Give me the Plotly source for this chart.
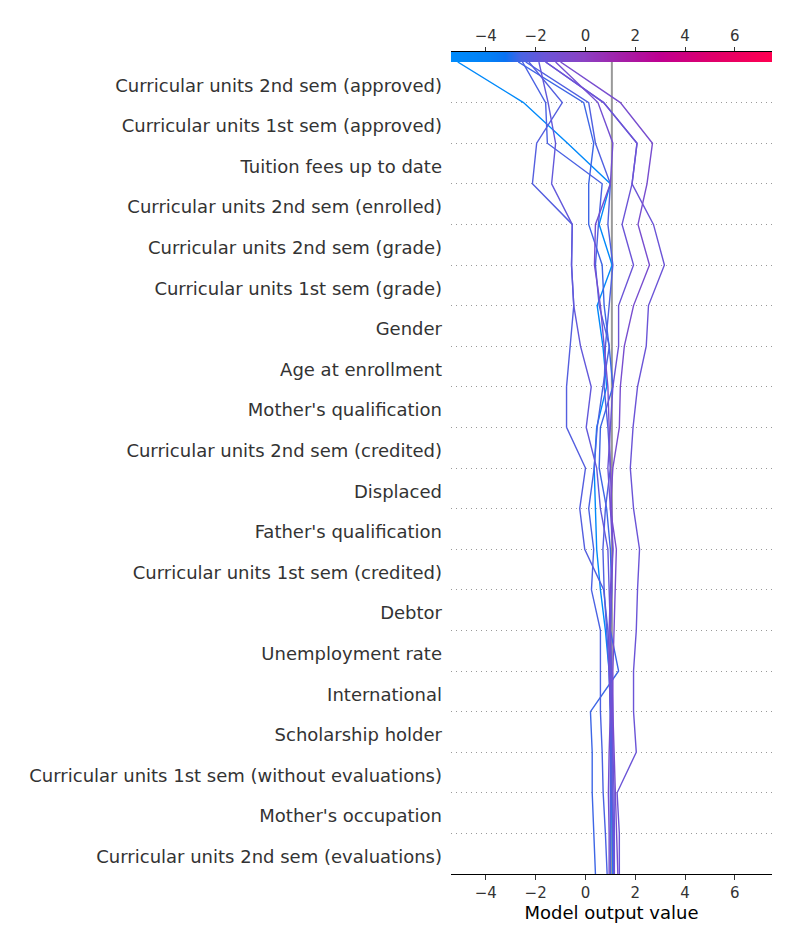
import numpy as np
import plotly.graph_objects as go
from plotly.colors import sample_colorscale

# ---------------- data ----------------
features = [
    "Curricular units 2nd sem (approved)",
    "Curricular units 1st sem (approved)",
    "Tuition fees up to date",
    "Curricular units 2nd sem (enrolled)",
    "Curricular units 2nd sem (grade)",
    "Curricular units 1st sem (grade)",
    "Gender",
    "Age at enrollment",
    "Mother's qualification",
    "Curricular units 2nd sem (credited)",
    "Displaced",
    "Father's qualification",
    "Curricular units 1st sem (credited)",
    "Debtor",
    "Unemployment rate",
    "International",
    "Scholarship holder",
    "Curricular units 1st sem (without evaluations)",
    "Mother's occupation",
    "Curricular units 2nd sem (evaluations)",
]

base_value = 1.06
x_min, x_max = -5.40, 7.49

tick_vals = [-4, -2, 0, 2, 4, 6]
tick_text = ["\u22124", "\u22122", "0", "2", "4", "6"]

# cumulative model output at each row boundary, listed from the top edge
# (final prediction) down to the bottom edge (21 values per sample)
sample_a = [-5.13, -2.49, -0.72, 1.00, 0.55, 1.07, 0.47, 0.70, 0.85, 0.45, 0.35,
            0.40, 0.45, 0.60, 0.80, 0.95, 1.00, 1.05, 1.05, 1.08, 1.10]
sample_b = [-2.70, -0.07, 0.33, 0.13, 0.13, 0.67, 0.75, 0.95, 1.10, 0.60, 0.55,
            0.85, 1.00, 1.05, 1.00, 1.33, 0.20, 0.27, 0.27, 0.33, 0.40]
sample_c = [-2.53, -1.60, -1.53, 0.67, 0.52, 0.40, 0.55, 0.96, 0.70, 0.47, 0.35,
            0.13, 0.33, 0.24, 0.60, 0.60, 0.60, 0.67, 0.71, 0.80, 0.87]
sample_d = [-2.40, 0.13, 0.40, 1.00, 0.90, 1.10, 0.95, 0.80, 0.75, 0.90, 1.00,
            0.80, 0.70, 0.75, 0.85, 0.95, 1.00, 1.00, 0.98, 1.00, 1.00]
sample_e = [-2.27, -0.93, -1.96, -2.13, -0.53, -0.56, -0.47, -0.63, -0.76, -0.76, 0.00,
            -0.23, -0.03, 0.73, 0.90, 1.00, 1.05, 1.05, 1.05, 1.10, 1.12]
sample_f = [-1.87, -1.50, -1.20, -1.36, -0.53, -0.56, -0.47, -0.20, 0.23, 0.03, 0.45,
            0.60, 0.90, 0.95, 1.00, 1.05, 1.10, 1.10, 1.15, 1.16, 1.16]
sample_g = [-1.60, 0.73, 2.07, 1.87, 1.47, 1.93, 1.33, 1.33, 1.10, 1.00, 0.90,
            1.00, 1.10, 1.05, 1.00, 1.00, 1.05, 1.10, 1.10, 1.12, 1.15]
sample_h = [-1.60, 0.73, 2.07, 1.87, 2.73, 3.17, 2.53, 2.44, 2.09, 1.91, 1.80,
            1.93, 2.17, 2.09, 2.04, 1.93, 1.93, 2.04, 1.27, 1.36, 1.36]
sample_i = [-1.20, 0.50, 1.10, 1.00, 0.40, 0.36, 0.60, 0.75, 0.90, 0.95, 1.00,
            1.05, 1.10, 1.00, 0.95, 0.95, 1.00, 0.95, 0.92, 0.95, 0.95]
sample_j = [-1.00, 1.40, 2.69, 2.47, 2.11, 2.57, 1.93, 1.56, 1.40, 1.36, 1.10,
            1.00, 1.24, 1.20, 1.15, 1.10, 1.10, 1.15, 1.20, 1.25, 1.30]

samples = [sample_a, sample_b, sample_c, sample_d, sample_e,
           sample_f, sample_g, sample_h, sample_i, sample_j]

# shap-like red/blue colormap
cscale = [
    [0.00, "#008bfb"],
    [0.12, "#0380f6"],
    [0.17, "#0a72f2"],
    [0.22, "#4a63e3"],
    [0.29, "#6a55d8"],
    [0.41, "#8a42c4"],
    [0.53, "#a320a8"],
    [0.65, "#bf0090"],
    [0.82, "#e0006a"],
    [1.00, "#ff0051"],
]

n_feat = len(features)
font_family = "DejaVu Sans, Verdana, sans-serif"

fig = go.Figure()

# base value line
fig.add_trace(go.Scatter(
    x=[base_value, base_value], y=[0, n_feat], mode="lines",
    line=dict(color="#999999", width=2), hoverinfo="skip", showlegend=False,
    xaxis="x", yaxis="y"))

# decision lines
levels = list(range(n_feat, -1, -1))  # top edge = n_feat ... bottom = 0
for s in samples:
    frac = (s[0] - x_min) / (x_max - x_min)
    col = sample_colorscale(cscale, [min(max(frac, 0), 1)])[0]
    fig.add_trace(go.Scatter(
        x=s, y=levels, mode="lines", line=dict(color=col, width=1.4),
        hoverinfo="skip", showlegend=False, xaxis="x", yaxis="y"))

# colour bar strip on top
grad_x = np.linspace(x_min, x_max, 300)
fig.add_trace(go.Heatmap(
    x=grad_x, y=[0], z=[grad_x], colorscale=cscale, zmin=x_min, zmax=x_max,
    showscale=False, hoverinfo="skip", xaxis="x2", yaxis="y2"))

plot_top, plot_bottom, bar_top = 62, 874, 52
H = 950
t_margin = bar_top
b_margin = H - plot_bottom
ph = H - t_margin - b_margin
split = (plot_bottom - plot_top) / ph

fig.update_layout(
    width=800, height=950,
    margin=dict(l=451, r=28, t=t_margin, b=b_margin),
    paper_bgcolor="white", plot_bgcolor="white",
    font=dict(family=font_family, color="#333333"),
    xaxis=dict(
        range=[x_min, x_max], anchor="y", domain=[0, 1],
        showline=True, linecolor="#000000", linewidth=1.3, mirror=False,
        ticks="outside", ticklen=5, tickwidth=1, tickcolor="#333333",
        tickvals=tick_vals, ticktext=tick_text,
        tickfont=dict(size=15, color="#333333"),
        showgrid=False, zeroline=False,
        title=dict(text="Model output value", font=dict(size=18, color="#000000"), standoff=5),
    ),
    xaxis2=dict(
        range=[x_min, x_max], anchor="y2", side="top", matches="x",
        showline=True, linecolor="#000000", linewidth=1.3,
        ticks="outside", ticklen=4, tickwidth=1, tickcolor="#333333",
        tickvals=tick_vals, ticktext=tick_text,
        tickfont=dict(size=15, color="#333333"),
        showgrid=False, zeroline=False,
    ),
    yaxis=dict(
        domain=[0, split], range=[0, n_feat], anchor="x",
        tickmode="array",
        tickvals=[n_feat - 0.5 - i for i in range(n_feat)],
        ticktext=features,
        tickfont=dict(size=18, color="#333333"),
        ticks="", showline=False, showgrid=False, zeroline=False,
        ticklabelstandoff=8, ticklabelshift=3,
        minor=dict(tickmode="array", tickvals=list(range(1, n_feat)),
                   showgrid=True, gridcolor="#9a9a9a", gridwidth=1,
                   griddash="1px,4px", ticks=""),
    ),
    yaxis2=dict(
        domain=[split, 1], range=[-0.5, 0.5], anchor="x2",
        showticklabels=False, ticks="", showline=False, showgrid=False, zeroline=False,
    ),
)

fig.write_html("out.html")
